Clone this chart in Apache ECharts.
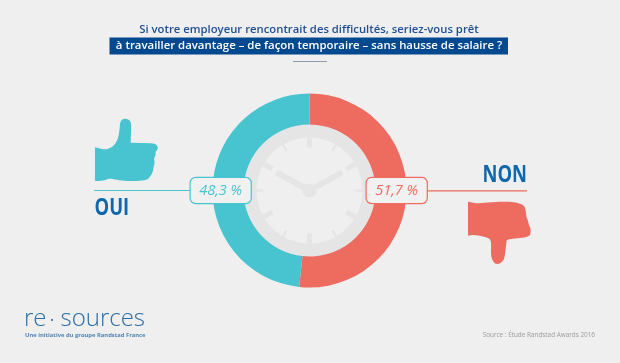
<!DOCTYPE html>
<html><head><meta charset="utf-8">
<style>html,body{margin:0;padding:0;background:#efefef}#c{width:620px;height:363px}</style>
<script src="https://cdn.jsdelivr.net/npm/echarts@6/dist/echarts.min.js"></script>
</head><body><div id="c"></div>
<script>
const categories = ['NON', 'OUI'];
const values = [51.7, 48.3];
const valueLabels = ['51,7 %', '48,3 %'];
const colors = ['#ee6b60', '#47c4d0'];
const titleLine1 = 'Si votre employeur rencontrait des difficultés, seriez-vous prêt';
const titleLine2 = 'à travailler davantage – de façon temporaire – sans hausse de salaire ?';
const logoParts = ['re', '•', 'sources'];
const logoSub = 'Une initiative du groupe Randstad France';
const sourceText = 'Source : Étude Randstad Awards 2016';

const cx = 309.5, cy = 190.5;
const font = '"Open Sans","Noto Sans",sans-serif';
const clock = '#e5e5e5';

echarts.graphic.registerShape('thumbUp', echarts.graphic.extendPath('M95,147.3 L103,149.3 C110,150 116,145 118,138 C120,130 119.5,125 120.5,122 C122,118 126,118 129,120 C131.5,122 131.5,125 131,130 L130.7,142.7 L151,143.3 C156,143.5 158.5,146 157.7,149 L155.5,152 C156,155 155,157 154,158.5 C155,162 154.5,165 153.5,167 C153.5,171 152,175 148,179 C144,181 136,181 127,181 C118,181 112,178 108,179 C103,181 99,181 95,181 Z', {}));
echarts.graphic.registerShape('thumbDown', echarts.graphic.extendPath('M468,201.7 L476,203.3 C483,203 492,201.7 505,201.7 C514,201.7 521,203 524.5,206.5 C526,210 526,214 526.5,217 C528,220 528.5,223 529,225.5 C531,228 531,232 530,235 C528,237.5 522,238 515,238.5 C509,239 506,239.5 506.5,242 C505.5,250 505,256 504,259 C502,263 498,265 495,263.5 C492,261 491,257 491,252 C491,246 492,241 489,238.5 C484,236.5 478,235 472,235 L468,235.7 Z', {}));

const g = [];
g.push({type:'circle',silent:true,z:1,shape:{cx,cy,r:67},style:{fill:clock}});
g.push({type:'circle',silent:true,z:1,shape:{cx,cy,r:53},style:{fill:'#efefef'}});
for (let h = 0; h < 12; h++) {
  const a = h * Math.PI / 6, major = h === 0 || h === 6 || h === 2 || h === 4 || h === 8 || h === 10;
  const r0 = major ? 43 : 46, r1 = 53;
  g.push({type:'line',silent:true,z:2,shape:{x1:cx+r0*Math.sin(a),y1:cy-r0*Math.cos(a),x2:cx+r1*Math.sin(a),y2:cy-r1*Math.cos(a)},
    style:{stroke:clock,lineWidth:major?5:2.5}});
}
[[278.5,173.5],[340,173.5]].forEach(p=>g.push({type:'line',silent:true,z:2,shape:{x1:cx,y1:cy,x2:p[0],y2:p[1]},style:{stroke:clock,lineWidth:6,lineCap:'round'}}));
g.push({type:'circle',silent:true,z:2,shape:{cx,cy,r:7},style:{fill:clock}});

// title
g.push({type:'text',z:5,x:309,y:30,style:{text:titleLine1,font:'600 11.3px '+font,fill:'#1f4f93',align:'center',verticalAlign:'middle'}});
g.push({type:'rect',z:5,shape:{x:109.5,y:37.5,width:398.5,height:17},style:{fill:'#03498f'}});
g.push({type:'text',z:6,x:309,y:46,style:{text:titleLine2,font:'600 11.4px '+font,fill:'#ffffff',align:'center',verticalAlign:'middle'}});
g.push({type:'line',z:5,shape:{x1:293,y1:61.5,x2:327,y2:61.5},style:{stroke:'#8f9bb0',lineWidth:1}});

// leader lines and answers
g.push({type:'line',z:3,shape:{x1:94,y1:190.5,x2:191,y2:190.5},style:{stroke:colors[1],lineWidth:1.2}});
g.push({type:'line',z:3,shape:{x1:427,y1:190.8,x2:527,y2:190.8},style:{stroke:colors[0],lineWidth:1.2}});
g.push({type:'text',z:5,x:94.5,y:208,scaleX:0.8,style:{text:categories[1],font:'700 23px '+font,fill:'#0f68ad',align:'left',verticalAlign:'middle'}});
g.push({type:'text',z:5,x:527,y:175,scaleX:0.8,style:{text:categories[0],font:'700 23px '+font,fill:'#0f68ad',align:'right',verticalAlign:'middle'}});

// thumbs
g.push({type:'thumbUp',z:4,silent:true,style:{fill:colors[1]}});
g.push({type:'thumbDown',z:4,silent:true,style:{fill:colors[0]}});

// logo + source
g.push({type:'text',z:5,x:24,y:319.5,style:{text:logoParts[0],font:'300 24px '+font,fill:'#2a6da8',align:'left',verticalAlign:'middle'}});
g.push({type:'text',z:5,x:52,y:320,style:{text:logoParts[1],font:'400 9px '+font,fill:'#2a6da8',align:'center',verticalAlign:'middle'}});
g.push({type:'text',z:5,x:145,y:319.5,style:{text:logoParts[2],font:'300 24px '+font,fill:'#2a6da8',align:'right',verticalAlign:'middle'}});
g.push({type:'text',z:5,x:25,y:335.5,scaleX:0.97,style:{text:logoSub,font:'700 6px '+font,fill:'#4f84b4',align:'left',verticalAlign:'middle'}});
g.push({type:'text',z:5,x:595,y:334.5,scaleX:0.85,style:{text:sourceText,font:'400 7.5px '+font,fill:'#9a9a9a',align:'right',verticalAlign:'middle'}});

const labelX = [396.7, 220.7];
const chart = echarts.init(document.getElementById('c'), null, {renderer:'canvas'});
chart.setOption({
  animation:false,
  backgroundColor:'#efefef',
  graphic:{elements:g},
  series:[{
    type:'pie', silent:true, z:3,
    center:[cx,cy], radius:[66,97], startAngle:90, clockwise:true,
    data: categories.map((n,i)=>({name:n,value:values[i],itemStyle:{color:colors[i]},
      label:{color:colors[i],borderColor:colors[i]}})),
    label:{show:true,position:'outside',formatter:p=>valueLabels[p.dataIndex],
      fontFamily:font,fontStyle:'italic',fontWeight:400,fontSize:14.5,
      backgroundColor:'#f1f1f1',borderWidth:1.2,borderRadius:5,width:60,height:25,lineHeight:25,align:'center',verticalAlign:'middle',padding:0},
    labelLine:{show:false},
    labelLayout:p=>({x:labelX[p.dataIndex],y:190.5,align:'center',verticalAlign:'middle',hideOverlap:false})
  }]
});
</script></body></html>
